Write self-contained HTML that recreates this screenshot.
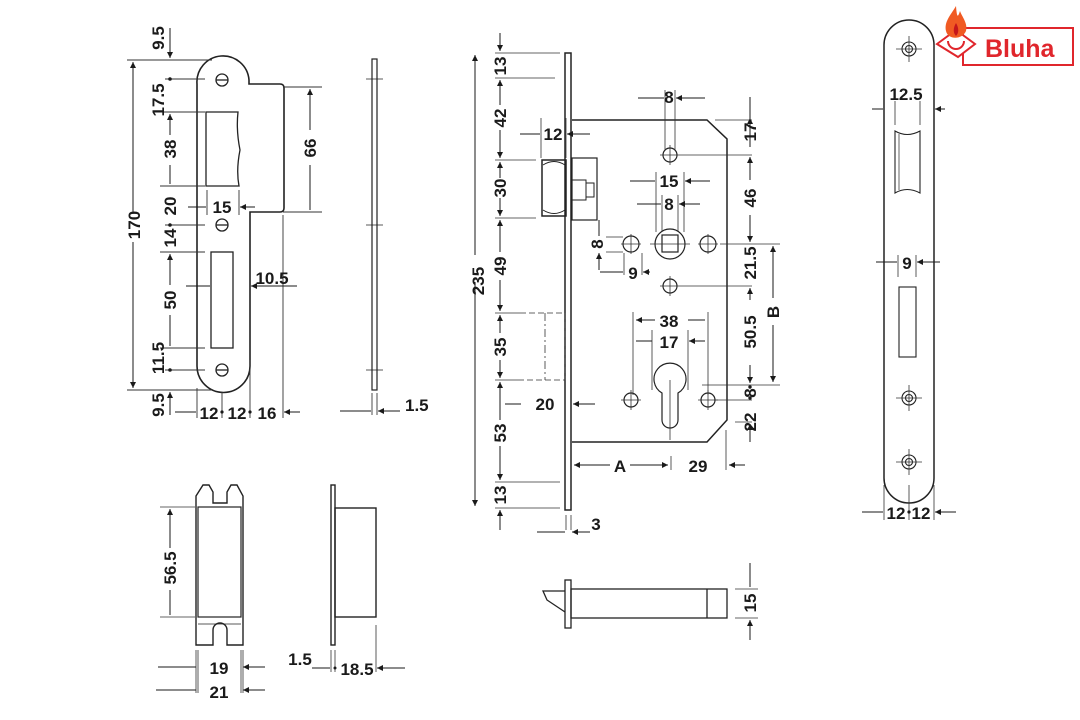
<!DOCTYPE html>
<html><head><meta charset="utf-8"><style>
html,body{margin:0;padding:0;background:#fff;}
svg{display:block;}
text{font-family:"Liberation Sans",sans-serif;font-weight:bold;font-size:17px;fill:#1a1a1a;}
</style></head><body>
<svg width="1080" height="720" viewBox="0 0 1080 720" xmlns="http://www.w3.org/2000/svg">
<defs>
<marker id="a" viewBox="0 0 10 10" refX="10" refY="5" markerWidth="10" markerHeight="6" orient="auto-start-reverse" markerUnits="userSpaceOnUse"><path d="M0,0L10,5L0,10z" fill="#1a1a1a"/></marker>
</defs>
<g fill="none" stroke="#222" stroke-width="1.3">
<path d="M197,84 A26,26 0 0 1 249,80 L249,84 L280,84 Q284,84 284,88 L284,208 Q284,212 280,212 L250,212 L250,366 A26.5,26.5 0 0 1 197,366 Z" stroke-width="1.6"/>
<path d="M206,112 L238,112 Q236,130 240,150 Q236,170 239,186 L206,186 Z"/>
<rect x="211" y="252" width="22" height="96"/>
<circle cx="222" cy="80" r="6"/><path d="M216,80h12"/>
<circle cx="222" cy="225" r="6"/><path d="M216,225h12"/>
<circle cx="222" cy="370" r="6"/><path d="M216,370h12"/>
</g>
<g fill="none" stroke="#333" stroke-width="0.9">
<path d="M127,60H212M127,390H212M165,79H205M160,112H205M160,186H205M165,225H205M160,252H205M160,348H205M165,370H205"/>
<path d="M197,388V418M222,392V418M250,360V418M283,215V418"/>
<path d="M283,87H322M283,212H322"/>
<path d="M207,190V215M239,190V215"/>
</g>
<g stroke="#1a1a1a" stroke-width="1" fill="none">
<path d="M133,62V213M133,242V388" marker-start="url(#a)" marker-end="url(#a)"/>
<path d="M170,28V58" marker-end="url(#a)"/>
<path d="M170,415V392" marker-end="url(#a)"/>
<path d="M170,114V135M170,165V184" marker-start="url(#a)"/>
<path d="M170,254V285M170,315V346" marker-start="url(#a)"/>
<path d="M310,89V130M310,165V210" marker-start="url(#a)"/>
<path d="M188,207H206M255,207H240" marker-end="url(#a)"/>
<path d="M186,286H210M297,286H251" marker-end="url(#a)"/>
<path d="M175,412H196M300,412H284" marker-end="url(#a)"/>
</g>
<g fill="#1a1a1a"><circle cx="170" cy="79" r="1.8"/><circle cx="170" cy="225" r="1.8"/><circle cx="170" cy="370" r="1.8"/><circle cx="222" cy="412" r="1.6"/><circle cx="250" cy="412" r="1.6"/></g>
<text transform="translate(140,225) rotate(-90)" text-anchor="middle">170</text>
<text transform="translate(164,38) rotate(-90)" text-anchor="middle">9.5</text>
<text transform="translate(164,100) rotate(-90)" text-anchor="middle">17.5</text>
<text transform="translate(176,149) rotate(-90)" text-anchor="middle">38</text>
<text transform="translate(176,206) rotate(-90)" text-anchor="middle">20</text>
<text transform="translate(176,238) rotate(-90)" text-anchor="middle">14</text>
<text transform="translate(176,300) rotate(-90)" text-anchor="middle">50</text>
<text transform="translate(164,358) rotate(-90)" text-anchor="middle">11.5</text>
<text transform="translate(164,405) rotate(-90)" text-anchor="middle">9.5</text>
<text transform="translate(316,148) rotate(-90)" text-anchor="middle">66</text>
<text x="222" y="213" text-anchor="middle">15</text>
<text x="272" y="284" text-anchor="middle">10.5</text>
<text x="209" y="419" text-anchor="middle">12</text>
<text x="237" y="419" text-anchor="middle">12</text>
<text x="267" y="419" text-anchor="middle">16</text>
<g fill="none" stroke="#222" stroke-width="1.2">
<rect x="372" y="59" width="5" height="331"/>
<path d="M366,79H383M366,225H383M366,370H383" stroke-width="0.8"/>
<path d="M372,393V415M377,393V415" stroke-width="0.8"/>
</g>
<path d="M340,411H371M400,411H378" stroke="#1a1a1a" marker-end="url(#a)"/>
<text x="405" y="411">1.5</text>

<g fill="none" stroke="#222" stroke-width="1.5">
<rect x="565" y="53" width="6" height="457"/>
<path d="M572,120H707L727,139V420L707,442H572"/>
<path d="M542,160H566V216H542Z"/>
<path d="M543,165Q554,158 565,165M543,210Q554,217 565,210" stroke-width="0.9"/>
<rect x="572" y="158" width="25" height="62" stroke-width="1.2"/>
<rect x="572" y="180" width="14" height="20" stroke-width="1"/>
<rect x="586" y="183" width="8" height="14" stroke-width="1"/>
<g stroke-width="1.2">
<circle cx="670" cy="155" r="7"/>
<circle cx="631" cy="244" r="8"/>
<circle cx="708" cy="244" r="8"/>
<circle cx="670" cy="286" r="7"/>
<circle cx="670" cy="244" r="15"/>
<rect x="662" y="235" width="16" height="17"/>
<circle cx="631" cy="400" r="7"/>
<circle cx="708" cy="400" r="7"/>
<path d="M662,420 L662,393 A16,16 0 1 1 678,393 L678,420 A8,8 0 0 1 662,420Z"/>
</g>
</g>
<g fill="none" stroke="#333" stroke-width="0.8">
<path d="M520,313H565V380H520" stroke-dasharray="6,3"/>
<path d="M545,313V380" stroke-dasharray="8,3,2,3"/>
<path d="M660,155H680M670,145V165M621,244H641M631,234V254M698,244H718M708,234V254M660,286H680M670,276V296M621,400H641M631,390V410M698,400H718M708,390V410M670,380V440M650,244H690"/>
<path d="M495,53H560M495,78H555M495,160H536M495,218H536M495,313H520M495,380H520M495,482H560M495,508H560"/>
<path d="M680,155H752M715,120H752M720,244H780M680,286H752M702,385H780M714,400H752M735,422H752"/>
<path d="M665,90V150M675,90V150M656,172V232M684,172V232M662,195V232M678,195V232M633,312V395M708,312V395M652,330V390M688,330V390"/>
<path d="M624,253V275M642,253V275M606,237H623M606,252H623"/>
<path d="M541,118V158M566,118V158M671,456V470M726,430V470"/>
<path d="M566,515V530M571,515V530"/>
</g>
<g stroke="#1a1a1a" stroke-width="1" fill="none">
<path d="M475,55V255M475,282V506" marker-start="url(#a)" marker-end="url(#a)"/>
<path d="M500,33V51" marker-end="url(#a)"/><path d="M500,530V510" marker-end="url(#a)"/>
<path d="M500,80V105M500,130V158" marker-start="url(#a)" marker-end="url(#a)"/>
<path d="M500,162V178M500,198V216" marker-start="url(#a)" marker-end="url(#a)"/>
<path d="M500,220V252M500,280V311" marker-start="url(#a)" marker-end="url(#a)"/>
<path d="M500,315V333M500,360V378" marker-start="url(#a)" marker-end="url(#a)"/>
<path d="M500,382V420M500,446V480" marker-start="url(#a)" marker-end="url(#a)"/>
<path d="M520,134H540M590,134H567" marker-end="url(#a)"/>
<path d="M638,98H664M705,98H676" marker-end="url(#a)"/>
<path d="M630,181H655M710,181H685" marker-end="url(#a)"/>
<path d="M637,204H661M700,204H679" marker-end="url(#a)"/>
<path d="M599,220V236M599,270V253" marker-end="url(#a)"/>
<path d="M600,272H623M650,272H643" marker-end="url(#a)"/>
<path d="M636,320H655M705,320H688" marker-start="url(#a)"/>
<path d="M636,341H652M705,341H689" marker-end="url(#a)"/>
<path d="M750,97V118M750,147V118" marker-end="url(#a)"/>
<path d="M750,157V180M750,215V242" marker-start="url(#a)" marker-end="url(#a)"/>
<path d="M750,288V300M750,365V383" marker-start="url(#a)" marker-end="url(#a)"/>
<path d="M750,442V424" marker-end="url(#a)"/>
<path d="M773,246V298M773,325V382" marker-start="url(#a)" marker-end="url(#a)"/>
<path d="M574,465H610M630,465H668" marker-start="url(#a)" marker-end="url(#a)"/>
<path d="M745,465H729" marker-end="url(#a)"/>
<path d="M505,404H521M595,404H573" marker-end="url(#a)"/>
<path d="M537,532H565M590,532H572" marker-end="url(#a)"/>
</g>
<g fill="#1a1a1a"><circle cx="750" cy="387" r="1.7"/><circle cx="750" cy="398" r="1.7"/></g>
<text transform="translate(484,281) rotate(-90)" text-anchor="middle">235</text>
<text transform="translate(506,66) rotate(-90)" text-anchor="middle">13</text>
<text transform="translate(506,118) rotate(-90)" text-anchor="middle">42</text>
<text transform="translate(506,188) rotate(-90)" text-anchor="middle">30</text>
<text transform="translate(506,266) rotate(-90)" text-anchor="middle">49</text>
<text transform="translate(506,347) rotate(-90)" text-anchor="middle">35</text>
<text transform="translate(506,433) rotate(-90)" text-anchor="middle">53</text>
<text transform="translate(506,495) rotate(-90)" text-anchor="middle">13</text>
<text x="553" y="140" text-anchor="middle">12</text>
<text x="669" y="103" text-anchor="middle">8</text>
<text x="669" y="187" text-anchor="middle">15</text>
<text x="669" y="210" text-anchor="middle">8</text>
<text transform="translate(603,244) rotate(-90)" text-anchor="middle">8</text>
<text x="633" y="279" text-anchor="middle">9</text>
<text x="669" y="327" text-anchor="middle">38</text>
<text x="669" y="348" text-anchor="middle">17</text>
<text x="545" y="410" text-anchor="middle">20</text>
<text x="620" y="472" text-anchor="middle">A</text>
<text x="698" y="472" text-anchor="middle">29</text>
<text x="596" y="530" text-anchor="middle">3</text>
<text transform="translate(756,132) rotate(-90)" text-anchor="middle">17</text>
<text transform="translate(756,198) rotate(-90)" text-anchor="middle">46</text>
<text transform="translate(756,263) rotate(-90)" text-anchor="middle">21.5</text>
<text transform="translate(756,332) rotate(-90)" text-anchor="middle">50.5</text>
<text transform="translate(756,393) rotate(-90)" text-anchor="middle">8</text>
<text transform="translate(756,422) rotate(-90)" text-anchor="middle">22</text>
<text transform="translate(779,312) rotate(-90)" text-anchor="middle">B</text>
<g fill="none" stroke="#222" stroke-width="1.3">
<rect x="565" y="580" width="6" height="48"/>
<rect x="571" y="589" width="156" height="29"/>
<path d="M707,589V618"/>
<path d="M565,591H543L547,600L565,612"/>
</g>
<g fill="none" stroke="#333" stroke-width="0.8"><path d="M735,589H758M735,618H758"/></g>
<g stroke="#1a1a1a" fill="none"><path d="M750,563V587M750,640V620" marker-end="url(#a)"/></g>
<text transform="translate(756,603) rotate(-90)" text-anchor="middle">15</text>

<g fill="none" stroke="#222" stroke-width="1.4">
<path d="M196,496L203,485H209L213,492V503H227V492L231,485H237L243,496V645H227V630A7,7 0 0 0 213,630V645H196Z"/>
<rect x="198" y="507" width="43" height="110" stroke-width="1.2"/>
<path d="M198,624H241" stroke-width="0.8"/>
<rect x="331" y="485" width="4" height="160"/>
<rect x="335" y="508" width="41" height="109"/>
</g>
<g fill="none" stroke="#333" stroke-width="0.8">
<path d="M160,507H195M160,617H195M198,650V693M241,650V693M196,650V693M243,650V693M331,650V672M335,650V672M376,625V672"/>
</g>
<g stroke="#1a1a1a" fill="none">
<path d="M170,509V548M170,590V615" marker-start="url(#a)"/>
<path d="M158,667H196M265,667H243" marker-end="url(#a)"/>
<path d="M156,690H196M265,690H243" marker-end="url(#a)"/>
<path d="M312,668H330M405,668H377" marker-end="url(#a)"/>
</g>
<text transform="translate(176,568) rotate(-90)" text-anchor="middle">56.5</text>
<text x="219" y="674" text-anchor="middle">19</text>
<text x="219" y="698" text-anchor="middle">21</text>
<text x="300" y="665" text-anchor="middle">1.5</text>
<text x="357" y="675" text-anchor="middle">18.5</text>
<circle cx="335" cy="668" r="1.5" fill="#1a1a1a"/>

<g fill="none" stroke="#222" stroke-width="1.5">
<path d="M884,45A25,25 0 0 1 934,45V478A25,25 0 0 1 884,478Z"/>
<g stroke-width="1.1">
<path d="M895,131Q907,138 920,131V193Q907,186 895,193Z"/>
<path d="M899,134V190" stroke-width="0.7"/>
<rect x="899" y="287" width="17" height="70"/>
<circle cx="909" cy="49" r="7"/><circle cx="909" cy="49" r="3.5"/>
<circle cx="909" cy="398" r="7"/><circle cx="909" cy="398" r="3.5"/>
<circle cx="909" cy="462" r="7"/><circle cx="909" cy="462" r="3.5"/>
</g>
</g>
<g fill="none" stroke="#333" stroke-width="0.8">
<path d="M896,49H922M909,36V62M896,398H922M909,385V411M896,462H922M909,449V475"/>
<path d="M895,101V125M920,101V125M898,255V277M916,255V277M884,485V520M909,485V520M934,485V520"/>
</g>
<g stroke="#1a1a1a" fill="none">
<path d="M872,109H883M945,109H935" marker-end="url(#a)"/>
<path d="M876,262H897M940,262H917" marker-end="url(#a)"/>
<path d="M862,512H883M956,512H935" marker-end="url(#a)"/>
</g>
<text x="906" y="100" text-anchor="middle">12.5</text>
<text x="907" y="269" text-anchor="middle">9</text>
<text x="896" y="519" text-anchor="middle">12</text>
<text x="921" y="519" text-anchor="middle">12</text>
<circle cx="909" cy="512" r="1.6" fill="#1a1a1a"/>

<g>
<rect x="963" y="28" width="110" height="37" fill="#fff" stroke="#e0262c" stroke-width="2"/>
<path d="M937,44L956,30L975,44L958,57Z" fill="#fff" stroke="#e0262c" stroke-width="2"/>
<path d="M948,41A8,8 0 0 0 964,41" fill="none" stroke="#e0262c" stroke-width="2"/>
<path d="M956,6C950,16 944,22 946,31C948,40 962,40 966,31C968,23 962,17 960,11C958,17 957,19 956,6Z" fill="#f05a23"/>
<path d="M956,23C953,28 953,33 956,36C959,33 959,28 956,23Z" fill="#c4161c"/>
<text x="985" y="57" style="font-size:25px;fill:#e0262c">Bluha</text>
</g>
</svg>
</body></html>
